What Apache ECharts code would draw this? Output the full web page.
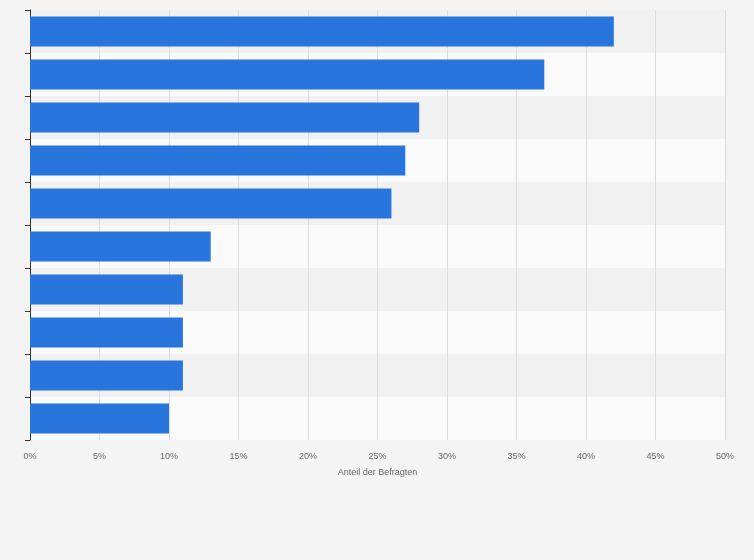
<!DOCTYPE html>
<html><head><meta charset="utf-8">
<script src="https://cdn.jsdelivr.net/npm/echarts@6/dist/echarts.min.js"></script>
<style>html,body{margin:0;padding:0;background:#f4f4f4}#c{width:754px;height:560px}</style>
</head><body><div id="c"></div>
<script>
var categories = ['A','B','C','D','E','F','G','H','I','J'];
var values = [42, 37, 28, 27, 26, 13, 11, 11, 11, 10];
var chart = echarts.init(document.getElementById('c'));
chart.setOption({
  backgroundColor: '#f4f4f4',
  grid: {left: 30, right: 29, top: 10, bottom: 120},
  xAxis: {
    type: 'value', min: 0, max: 50, interval: 5,
    name: 'Anteil der Befragten', nameLocation: 'middle', nameGap: 28,
    nameTextStyle: {color: '#666', fontSize: 9, fontFamily: 'Arial'},
    axisLabel: {formatter: '{value}%', color: '#666', fontSize: 9, fontFamily: 'Arial', margin: 12},
    axisLine: {show: false}, axisTick: {show: false},
    splitLine: {lineStyle: {color: '#dcdcdc'}}
  },
  yAxis: {
    type: 'category', data: categories, inverse: true,
    axisLabel: {show: false},
    axisLine: {lineStyle: {color: '#333'}},
    axisTick: {show: true, lineStyle: {color: '#333'}},
    splitArea: {show: true, areaStyle: {color: ['#f1f1f1', '#fafafa']}}
  },
  series: [{type: 'bar', data: values, barCategoryGap: '30%', itemStyle: {color: '#2876dd'}}]
});
</script></body></html>
